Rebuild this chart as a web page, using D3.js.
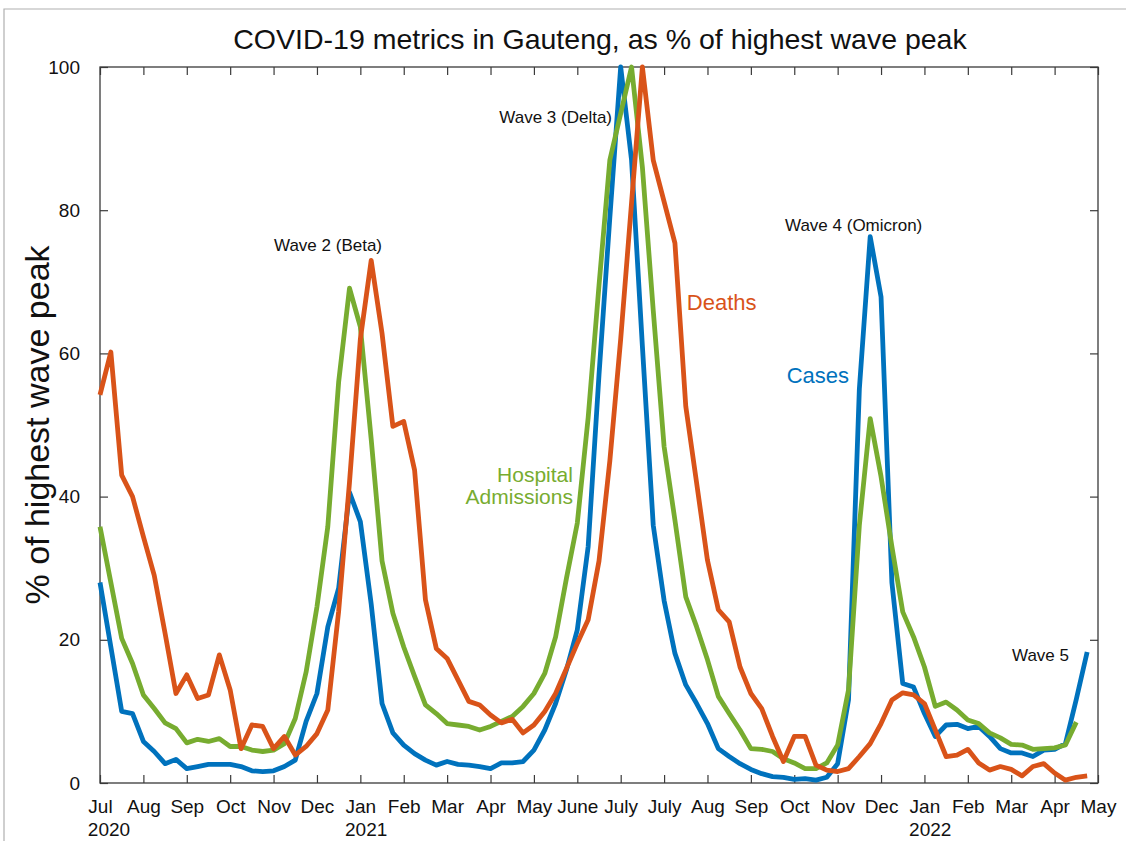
<!DOCTYPE html>
<html>
<head>
<meta charset="utf-8">
<script src="https://cdn.jsdelivr.net/npm/d3@7"></script>
<style>
  body { margin: 0; background: #fff; }
  svg { display: block; font-family: "Liberation Sans", Arial, Helvetica, sans-serif; }
</style>
</head>
<body>
<div class="chart"></div>
<script>
// weekly values, % of highest wave peak (week 0 = start of July 2020)
const cases = [28.0, 19, 10.0, 9.7, 5.8, 4.4, 2.7, 3.3, 2.0, 2.3, 2.6, 2.6, 2.6, 2.3, 1.7, 1.6, 1.7, 2.3, 3.2, 8.6,
    12.5, 21.8, 27.2, 40.6, 36.5, 25, 11.1, 7.0, 5.3, 4.1, 3.2, 2.5, 3.0, 2.6, 2.5, 2.3, 2.0, 2.8, 2.8, 3.0,
    4.6, 7.4, 11.1, 15.8, 21.4, 33, 57, 79, 100, 87, 61, 36, 25.5, 18.1, 13.7, 11.1, 8.3, 4.8, 3.7, 2.7,
    1.9, 1.3, 0.9, 0.8, 0.5, 0.6, 0.4, 0.8, 2.7, 11.6, 55, 76.3, 67.9, 28, 13.9, 13.4, 9.7, 6.5, 8.1, 8.2,
    7.6, 7.9, 6.5, 4.8, 4.2, 4.2, 3.7, 4.6, 4.7, 5.5, 11.7, 18.3];
const hospital = [35.8, 28, 20.2, 16.7, 12.3, 10.4, 8.4, 7.6, 5.6, 6.1, 5.8, 6.2, 5.1, 5.1, 4.6, 4.4, 4.6, 5.5, 9.0, 15.5,
    24.6, 35.8, 56, 69.1, 63.7, 48, 31, 23.7, 19.0, 14.9, 10.9, 9.7, 8.3, 8.1, 7.9, 7.4, 7.9, 8.6, 9.3, 10.7,
    12.5, 15.3, 20.4, 28.6, 36.3, 51, 69.5, 87, 93.5, 100, 86, 66, 47, 36.7, 26.0, 21.8, 17.2, 12.1, 9.7, 7.4,
    4.8, 4.7, 4.4, 3.4, 2.8, 2.0, 2.0, 2.8, 5.3, 13.0, 36, 50.9, 42.8, 33, 23.9, 20.4, 16.2, 10.7, 11.3, 10.2,
    8.8, 8.3, 7.0, 6.3, 5.4, 5.3, 4.7, 4.8, 4.9, 5.3, 8.5];
const deaths = [54.2, 60.2, 43.0, 40.0, 34.4, 29.0, 20.9, 12.5, 15.1, 11.8, 12.3, 17.9, 13.0, 4.8, 8.1, 7.9, 4.8, 6.5, 3.9, 5.1,
    6.9, 10.2, 24, 42, 62, 73, 62.8, 49.8, 50.5, 43.7, 25.6, 18.8, 17.4, 14.4, 11.4, 10.9, 9.5, 8.4, 8.9, 7.0,
    8.1, 10.0, 12.5, 16.0, 19.5, 22.8, 31, 45, 62, 81, 100, 87, 81.2, 75.4, 52.6, 41.9, 31.1, 24.2, 22.5, 16.2,
    12.5, 10.4, 6.5, 3.0, 6.5, 6.5, 2.5, 1.8, 1.6, 2.0, 3.7, 5.5, 8.3, 11.6, 12.6, 12.3, 11.1, 7.4, 3.7, 3.9,
    4.7, 2.8, 1.8, 2.3, 1.9, 1.0, 2.3, 2.7, 1.4, 0.4, 0.8, 1.0];

// ticks every 4 weeks
const monthLabels = ['Jul', 'Aug', 'Sep', 'Oct', 'Nov', 'Dec', 'Jan', 'Feb', 'Mar', 'Apr', 'May', 'June',
    'July', 'July', 'Aug', 'Sep', 'Oct', 'Nov', 'Dec', 'Jan', 'Feb', 'Mar', 'Apr', 'May'];
const yearLabels = [[0, '2020'], [6, '2021'], [19, '2022']];
const yTicks = [0, 20, 40, 60, 80, 100];
const waveNotes = ['Wave 2 (Beta)', 'Wave 3 (Delta)', 'Wave 4 (Omicron)', 'Wave 5'];

const width = 1126, height = 841;
const margin = {left: 100, right: 28, top: 67, bottom: 58};
const colors = {cases: '#0072BD', hospital: '#77AC30', deaths: '#D95319'};

const svg = d3.select('div.chart').append('svg').attr('width', width).attr('height', height);

// screenshot frame
svg.append('path').attr('d', `M4,${height} V9 H${width}`).attr('fill', 'none').attr('stroke', '#b0b0b0').attr('stroke-width', 1.2);

const x = d3.scaleLinear().domain([0, 92]).range([margin.left, width - margin.right]);
const y = d3.scaleLinear().domain([0, 100]).range([height - margin.bottom, margin.top]);
const tickWeeks = monthLabels.map((m, i) => i * 4);

const axisColor = '#3a3a3a';
const gx = svg.append('g').attr('transform', `translate(0, ${y(0)})`)
    .call(d3.axisBottom(x).tickValues(tickWeeks).tickFormat((d, i) => monthLabels[i]).tickSizeInner(-8).tickSizeOuter(0).tickPadding(17));
gx.select('.domain').remove();
gx.selectAll('.tick line').attr('stroke', axisColor).attr('stroke-width', 1.2);
gx.selectAll('.tick text').attr('font-size', 19).attr('font-family', null).attr('fill', '#111');

const gTop = svg.append('g').attr('transform', `translate(0, ${y(100)})`)
    .call(d3.axisTop(x).tickValues(tickWeeks).tickFormat('').tickSizeInner(-8).tickSizeOuter(0));
gTop.select('.domain').remove();
gTop.selectAll('.tick line').attr('stroke', axisColor).attr('stroke-width', 1.2);

const gy = svg.append('g').attr('transform', `translate(${x(0)}, 0)`)
    .call(d3.axisLeft(y).tickValues(yTicks).tickSizeInner(-8).tickSizeOuter(0).tickPadding(20));
gy.select('.domain').remove();
gy.selectAll('.tick line').attr('stroke', axisColor).attr('stroke-width', 1.2);
gy.selectAll('.tick text').attr('font-size', 19).attr('font-family', null).attr('fill', '#111');

const gRight = svg.append('g').attr('transform', `translate(${x(92)}, 0)`)
    .call(d3.axisRight(y).tickValues(yTicks).tickFormat('').tickSizeInner(-8).tickSizeOuter(0));
gRight.select('.domain').remove();
gRight.selectAll('.tick line').attr('stroke', axisColor).attr('stroke-width', 1.2);

svg.append('rect')
    .attr('x', x(0)).attr('y', y(100))
    .attr('width', x(92) - x(0)).attr('height', y(0) - y(100))
    .attr('fill', 'none').attr('stroke', axisColor).attr('stroke-width', 1.3);

// year labels under the first month of each year, left aligned with the month label
yearLabels.forEach(([idx, yr]) => {
    const monthText = gx.selectAll('.tick text').nodes()[idx];
    const w = monthText.getComputedTextLength();
    svg.append('text')
        .attr('x', x(idx * 4) - w / 2)
        .attr('y', 836)
        .attr('font-size', 19)
        .attr('fill', '#111')
        .text(yr);
});

const line = d3.line().x((d, i) => x(i)).y(d => y(d));
[['cases', cases], ['hospital', hospital], ['deaths', deaths]].forEach(([key, values]) => {
    svg.append('path')
        .datum(values)
        .attr('d', line)
        .attr('fill', 'none')
        .attr('stroke', colors[key])
        .attr('stroke-width', 4.8)
        .attr('stroke-linejoin', 'round');
});

// series labels
svg.append('text').attr('x', x(54.1)).attr('y', 310).attr('font-size', 22).attr('fill', colors.deaths).text('Deaths');
svg.append('text').attr('x', x(63.3)).attr('y', 383).attr('font-size', 22).attr('fill', colors.cases).text('Cases');
svg.append('text').attr('x', x(43.6)).attr('y', 482).attr('font-size', 21).attr('text-anchor', 'end').attr('fill', colors.hospital).text('Hospital');
svg.append('text').attr('x', x(43.6)).attr('y', 504).attr('font-size', 21).attr('text-anchor', 'end').attr('fill', colors.hospital).text('Admissions');

// wave annotations
svg.append('text').attr('x', 274).attr('y', 251).attr('font-size', 17).attr('fill', '#111').text(waveNotes[0]);
svg.append('text').attr('x', 612).attr('y', 123).attr('font-size', 17).attr('text-anchor', 'end').attr('fill', '#111').text(waveNotes[1]);
svg.append('text').attr('x', 785).attr('y', 231).attr('font-size', 17).attr('fill', '#111').text(waveNotes[2]);
svg.append('text').attr('x', 1012).attr('y', 661).attr('font-size', 17).attr('fill', '#111').text(waveNotes[3]);

// title and y label
svg.append('text').attr('x', 600).attr('y', 49).attr('text-anchor', 'middle').attr('font-size', 28.5).attr('fill', '#111')
    .text('COVID-19 metrics in Gauteng, as % of highest wave peak');
svg.append('text').attr('transform', `translate(49, ${(y(0) + y(100)) / 2}) rotate(-90)`).attr('text-anchor', 'middle')
    .attr('font-size', 34).attr('fill', '#111').text('% of highest wave peak');
</script>
</body>
</html>
